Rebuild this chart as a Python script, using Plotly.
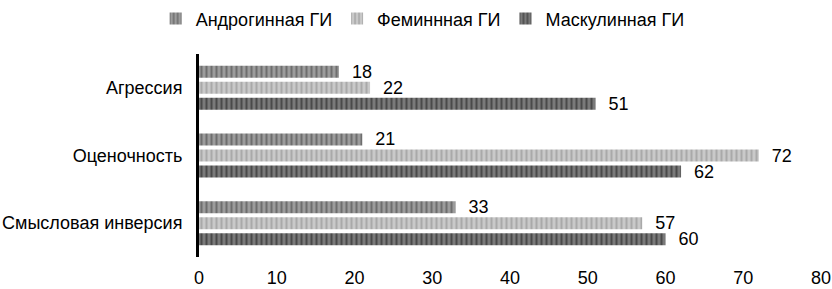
import plotly.graph_objects as go

categories = ["Агрессия", "Оценочность", "Смысловая инверсия"]
series_names = ["Андрогинная ГИ", "Феминнная ГИ", "Маскулинная ГИ"]
androgynous = [18, 21, 33]
feminine = [22, 72, 57]
masculine = [51, 62, 60]
x_ticks = [0, 10, 20, 30, 40, 50, 60, 70, 80]

values = [androgynous, feminine, masculine]
bg_colors = ["#9c9c9c", "#c9c9c9", "#7a7a7a"]
fg_colors = ["#6e6e6e", "#a9a9a9", "#4a4a4a"]

FONT = "Liberation Sans, Arial, sans-serif"

fig = go.Figure()
for name, vals, bg, fg in zip(series_names, values, bg_colors, fg_colors):
    fig.add_trace(go.Bar(
        y=categories, x=vals, name=name, orientation="h",
        marker=dict(color=bg, line=dict(width=0),
                    pattern=dict(shape="|", fgcolor=fg, bgcolor=bg,
                                 size=5, solidity=0.4, fillmode="replace")),
        text=vals, texttemplate="\u00a0\u00a0%{x}", textposition="outside",
        constraintext="none",
        textfont=dict(family=FONT, size=18, color="#000000"),
        cliponaxis=False,
    ))

fig.update_layout(
    width=832, height=289,
    margin=dict(l=199, r=11, t=54, b=32, autoexpand=False),
    paper_bgcolor="white", plot_bgcolor="white",
    barmode="group", bargap=0.29, bargroupgap=0.25,
    font=dict(family=FONT, size=18, color="#000000"),
    showlegend=True,
    legend=dict(orientation="h", xref="container", yref="container",
                x=0.508, xanchor="center", y=0.935, yanchor="middle",
                font=dict(family=FONT, size=18, color="#000000"),
                itemwidth=30, traceorder="normal"),
    xaxis=dict(range=[0, 80], tickvals=x_ticks, showgrid=False, zeroline=False,
               showline=False, ticks="", ticklabelstandoff=8, automargin=False,
               tickfont=dict(family=FONT, size=18, color="#000000")),
    yaxis=dict(autorange="reversed", showline=True, linecolor="#000000", linewidth=3,
               ticks="", ticklabelstandoff=10, showgrid=False, automargin=False,
               tickfont=dict(family=FONT, size=18, color="#000000")),
)

fig.write_html("out.html", config={"displayModeBar": False},
               post_script="document.body.style.margin='0';document.body.style.overflow='hidden';")
